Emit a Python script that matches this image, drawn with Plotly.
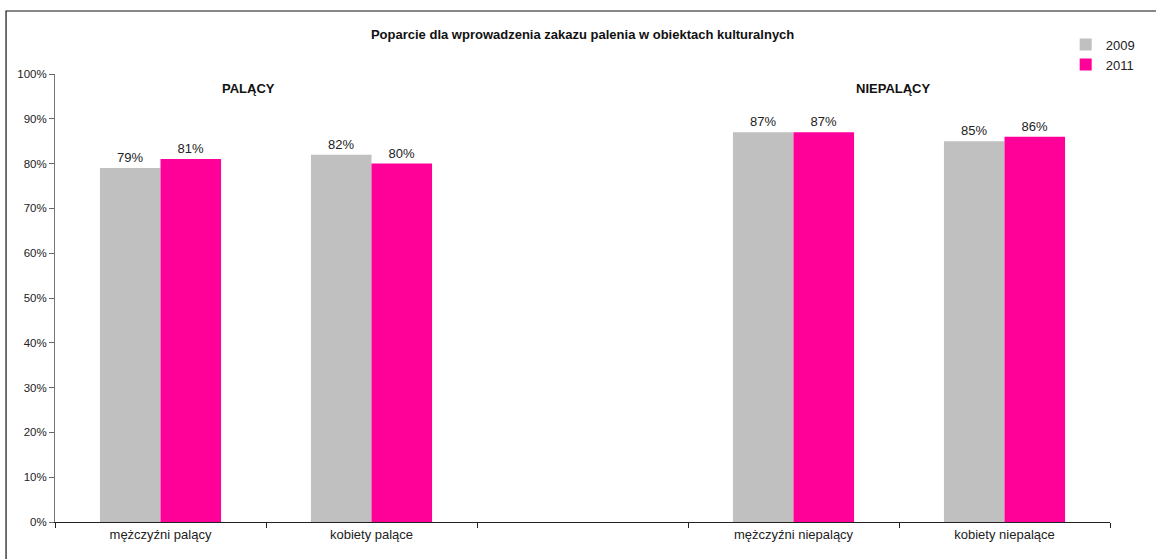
import plotly.graph_objects as go

categories = ["mężczyźni palący", "kobiety palące", " ", "mężczyźni niepalący", "kobiety niepalące"]
values_2009 = [79, 82, None, 87, 85]
values_2011 = [81, 80, None, 87, 86]
series_names = ["2009", "2011"]
colors = ["#C0C0C0", "#FF0099"]
y_ticks = [0, 10, 20, 30, 40, 50, 60, 70, 80, 90, 100]
y_tick_labels = [f"{v}%" for v in y_ticks]

def labels(vals):
    return [f"{v}%" if v is not None else "" for v in vals]

fig = go.Figure()
for name, vals, col in zip(series_names, [values_2009, values_2011], colors):
    fig.add_trace(go.Bar(
        x=categories, y=vals, name=name, marker_color=col, marker_line_width=0,
        text=labels(vals), textposition="outside", cliponaxis=False,
        textfont=dict(family="Liberation Sans, Arial", size=13, color="#222"),
    ))

fig.update_layout(
    width=1156, height=559,
    margin=dict(l=55, r=46, t=74, b=37, autoexpand=False),
    paper_bgcolor="white", plot_bgcolor="white",
    barmode="group", bargap=0.426, bargroupgap=0,
    font=dict(family="Liberation Sans, Arial", size=11, color="#222"),
    title=dict(text="<b>Poparcie dla wprowadzenia zakazu palenia w obiektach kulturalnych</b>",
               x=0.504, xanchor="center", y=1 - 34 / 559, yanchor="middle",
               font=dict(size=13, color="#111")),
    legend=dict(x=0.958, y=1.099, xanchor="left", yanchor="top",
                font=dict(size=13, color="#222"), itemwidth=30,
                tracegroupgap=0, bgcolor="rgba(0,0,0,0)"),
    showlegend=True,
    xaxis=dict(type="category", categoryorder="array", categoryarray=categories,
               range=[-0.5, 4.5], tickson="boundaries", ticks="outside", ticklen=5,
               tickcolor="#222", showline=True, linecolor="#222", linewidth=1,
               showgrid=False, tickfont=dict(size=13, color="#222")),
    yaxis=dict(range=[0, 100], tickvals=y_ticks, ticktext=y_tick_labels,
               ticks="outside", ticklen=5, tickcolor="#666", showline=True,
               linecolor="#777", linewidth=1, showgrid=False, zeroline=False,
               tickfont=dict(size=11.5, color="#222")),
    annotations=[
        dict(text="<b>PALĄCY</b>", x=0.183, y=0.989, xref="paper", yref="paper",
             xanchor="center", showarrow=False, font=dict(size=13, color="#111")),
        dict(text="<b>NIEPALĄCY</b>", x=0.794, y=0.989, xref="paper", yref="paper",
             xanchor="center", showarrow=False, font=dict(size=13, color="#111")),
    ],
    shapes=[dict(type="rect", xref="paper", yref="paper",
                 x0=-0.0464, x1=1.2, y0=-0.2, y1=1.1406,
                 line=dict(color="#111", width=1.2), fillcolor="rgba(0,0,0,0)", layer="below")],
)

fig.write_html("out.html", post_script="document.body.style.margin='0';",
               config={"displayModeBar": False})
